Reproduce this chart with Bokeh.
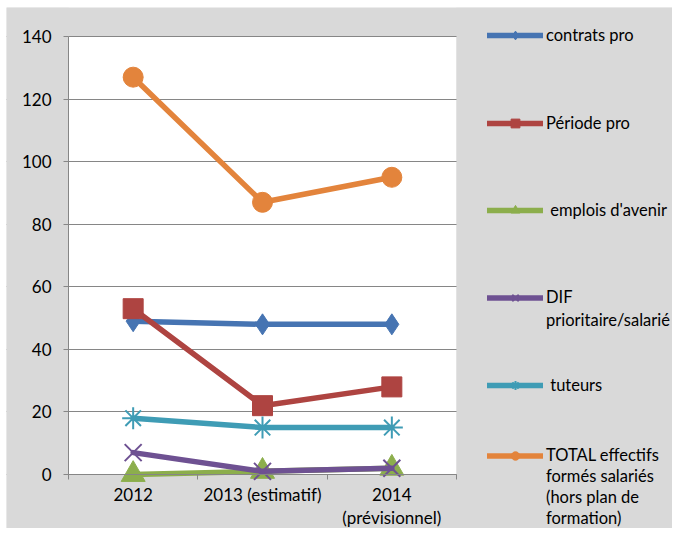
from bokeh.plotting import figure
from bokeh.models import Range1d, FixedTicker, Legend, LegendItem, BoxAnnotation
from bokeh.embed import file_html
from bokeh.resources import INLINE

# ---------------- data ----------------
categories = ["2012", "2013 (estimatif)", "2014\n(prévisionnel)"]
contrats_pro = [49, 48, 48]
periode_pro = [53, 22, 28]
emplois_avenir = [0, 1, 2]
dif_prioritaire = [7, 1, 2]
tuteurs = [18, 15, 15]
total_effectifs = [127, 87, 95]
y_ticks = [0, 20, 40, 60, 80, 100, 120, 140]
y_max = 140

series_labels = [
    ["contrats pro"],
    ["Période pro"],
    [" emplois d'avenir"],
    ["DIF", "prioritaire/salarié"],
    [" tuteurs"],
    ["TOTAL effectifs", "formés salariés", "(hors plan de", "formation)"],
]
series_values = [contrats_pro, periode_pro, emplois_avenir,
                 dif_prioritaire, tuteurs, total_effectifs]

# ---------------- styles / layout ----------------
colors = ["#4674B2", "#AE4441", "#8CAE4C", "#6E5192", "#3F9CB5", "#E3843C"]
markers = ["diamond", "square", "triangle", "x", "asterisk", "circle"]
marker_sizes = [21, 20, 24, 24, 22, 20]
marker_line_widths = [1, 1, 1, 2, 2, 1]

FONT = "Lato"
GRAY = "#868686"
BG = "#D9D9D9"

FIG_W, FIG_H = 672, 528
CHART_L, CHART_T = 6, 7                              # grey chart area origin
PLOT_L, PLOT_T, PLOT_W, PLOT_H = 68, 36, 388, 438    # white plotting area (px)
px_per_x = PLOT_W / len(categories)
px_per_y = PLOT_H / y_max
frame_w = FIG_W - CHART_L
frame_h = FIG_H - CHART_T

legend_centers = [35, 123, 210, 297, 385, 455]   # first-line centre y (px from top)
legend_row_h = [22, 22, 22, 23, 22, 21]
legend_glyph_left = 487
legend_font_size = "16.5px"

x_start = -(PLOT_L - CHART_L) / px_per_x
x_end = len(categories) + (FIG_W - PLOT_L - PLOT_W) / px_per_x
y_end = y_max + (PLOT_T - CHART_T) / px_per_y
y_start = -(FIG_H - PLOT_T - PLOT_H) / px_per_y

p = figure(
    frame_width=frame_w, frame_height=frame_h,
    width=FIG_W, height=FIG_H,
    min_border_left=CHART_L, min_border_top=CHART_T, min_border_right=0, min_border_bottom=0,
    x_range=Range1d(x_start, x_end), y_range=Range1d(y_start, y_end),
    toolbar_location=None, output_backend="svg",
)
p.border_fill_color = "#FFFFFF"
p.background_fill_color = BG
p.outline_line_color = None

xs = [i + 0.5 for i in range(len(categories))]

# white plotting area
p.add_layout(BoxAnnotation(left=0, right=len(categories), bottom=0, top=y_max,
                           fill_color="#FFFFFF", fill_alpha=1, line_color=None, level="image"))

# grid
p.xgrid.visible = False
p.ygrid.ticker = FixedTicker(ticks=y_ticks)
p.ygrid.grid_line_color = GRAY

# grey covers that hide the grid lines outside the plotting area
p.add_layout(BoxAnnotation(left=len(categories), fill_color=BG, fill_alpha=1, line_color=None, level="underlay"))
p.add_layout(BoxAnnotation(right=0, fill_color=BG, fill_alpha=1, line_color=None, level="underlay"))

# x axis at y = 0
p.xaxis.fixed_location = 0
p.xaxis.bounds = (0, len(categories))
p.xaxis.ticker = FixedTicker(ticks=xs, minor_ticks=list(range(len(categories) + 1)))
p.xaxis.major_label_overrides = {x: c for x, c in zip(xs, categories)}
p.xaxis.major_tick_line_color = None
p.xaxis.minor_tick_in = 0
p.xaxis.minor_tick_out = 5
p.xaxis.minor_tick_line_color = GRAY
p.xaxis.axis_line_color = GRAY
p.xaxis.major_label_standoff = 3
p.xaxis.major_label_text_line_height = 1.13

# y axis at x = 0
p.yaxis.fixed_location = 0
p.yaxis.bounds = (0, y_max)
p.yaxis.ticker = FixedTicker(ticks=y_ticks)
p.yaxis.major_tick_in = 0
p.yaxis.major_tick_out = 5
p.yaxis.minor_tick_line_color = None
p.yaxis.major_tick_line_color = GRAY
p.yaxis.axis_line_color = GRAY
p.yaxis.major_label_standoff = 12

for ax in (p.xaxis, p.yaxis):
    ax.major_label_text_font = FONT
    ax.major_label_text_font_size = "17px"
    ax.major_label_text_color = "#000000"

renderers = []
for vals, col, mk, ms, mlw in zip(series_values, colors, markers, marker_sizes, marker_line_widths):
    lr = p.line(xs, vals, line_color=col, line_width=5.5, line_cap="round", line_join="round")
    sr = p.scatter(xs, vals, marker=mk, size=ms, fill_color=col, line_color=col, line_width=mlw)
    renderers.append([lr, sr])

for labels, rs, cy, rh in zip(series_labels, renderers, legend_centers, legend_row_h):
    items = [LegendItem(label=labels[0], renderers=rs)]
    for extra in labels[1:]:
        items.append(LegendItem(label=extra, renderers=[]))
    top = cy - rh / 2
    bottom = top + rh * len(labels)
    leg = Legend(
        items=items, location=(legend_glyph_left - CHART_L, FIG_H - bottom),
        orientation="vertical", padding=0, margin=0, spacing=0,
        glyph_width=56, glyph_height=rh, label_height=rh, label_standoff=3,
        label_text_font=FONT, label_text_font_size=legend_font_size,
        label_text_color="#000000",
        background_fill_alpha=0, border_line_alpha=0,
    )
    p.add_layout(leg, "center")

open("out.html", "w").write(file_html(p, INLINE))
